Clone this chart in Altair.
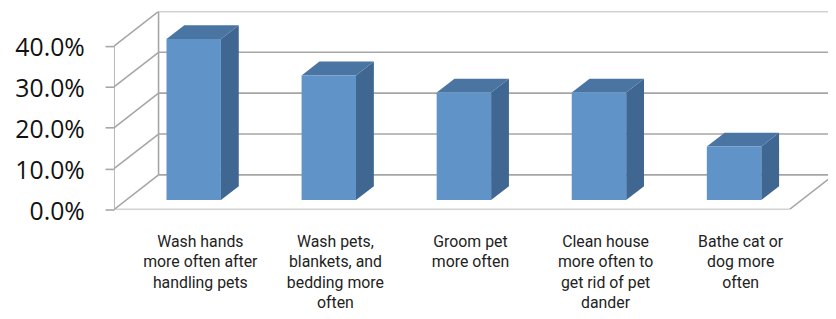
import altair as alt
import pandas as pd

# ---- data ----
categories = [
    "Wash hands\nmore often after\nhandling pets",
    "Wash pets,\nblankets, and\nbedding more\noften",
    "Groom pet\nmore often",
    "Clean house\nmore often to\nget rid of pet\ndander",
    "Bathe cat or\ndog more\noften",
]
values = [0.394, 0.305, 0.263, 0.263, 0.131]
tick_values = [0.0, 0.1, 0.2, 0.3, 0.4]

# ---- 3D projection settings (styling) ----
WALL_DX = 0.33      # depth offset of the back wall, in category units
WALL_DY = 0.0848    # depth offset of the back wall, in value units
BAR_W = 0.403
BAR_FRONT = 0.274   # fraction of depth where the bar's front face sits
BAR_DEPTH = 0.40    # fraction of depth taken by the bar
X_MAX = 5.286
Y_MAX = 0.4 + WALL_DY
N = len(categories)

FRONT = "#6094C9"
SIDE = "#3F6791"
TOP = "#4A74A1"
GRID = "#A6A6A6"

fx, fy = BAR_FRONT * WALL_DX, BAR_FRONT * WALL_DY
sdx, sdy = BAR_DEPTH * WALL_DX, BAR_DEPTH * WALL_DY

xs = alt.Scale(domain=[0, X_MAX], nice=False, zero=False)
ys = alt.Scale(domain=[0, Y_MAX], nice=False, zero=False)

front_rows, side_rows, top_rows = [], [], []
for i, (c, v) in enumerate(zip(categories, values)):
    xl = i + 0.5 + fx - BAR_W / 2
    xr = xl + BAR_W
    base, top = fy, fy + v
    front_rows.append(dict(cat=c, xl=xl, xr=xr, base=base, top=top, v=v))
    side_rows += [dict(cat=c, x=xr, y=top, y2=base),
                  dict(cat=c, x=xr + sdx, y=top + sdy, y2=base + sdy)]
    top_rows += [dict(cat=c, y=top, x=xl, x2=xr),
                 dict(cat=c, y=top + sdy, x=xl + sdx, x2=xr + sdx)]

grid_rows = []
for t in tick_values:
    grid_rows.append(dict(x=WALL_DX, x2=X_MAX, y=t + WALL_DY, y2=t + WALL_DY))
    grid_rows.append(dict(x=0, x2=WALL_DX, y=t, y2=t + WALL_DY))
grid_rows.append(dict(x=WALL_DX, x2=WALL_DX, y=WALL_DY, y2=tick_values[-1] + WALL_DY))
grid_rows.append(dict(x=0, x2=0, y=0, y2=tick_values[-1]))
grid_rows.append(dict(x=0, x2=N, y=0, y2=0))
grid_rows.append(dict(x=N, x2=N + WALL_DX, y=0, y2=WALL_DY))

label_rows = [dict(cat=c, x=i + 0.5, y=0) for i, c in enumerate(categories)]

grid = alt.Chart(pd.DataFrame(grid_rows)).mark_rule(
    color=GRID, strokeWidth=1.6, clip=True
).encode(
    x=alt.X("x:Q", scale=xs, axis=None),
    x2="x2:Q",
    y=alt.Y("y:Q", scale=ys, axis=alt.Axis(
        values=tick_values, format=".1%", domain=False, grid=False,
        tickSize=9, tickColor=GRID, tickWidth=1.6,
        labelFont="Open Sans", labelFontSize=25, labelColor="#111111",
        labelPadding=21, labelOffset=2, title=None)),
    y2="y2:Q",
)

side = alt.Chart(pd.DataFrame(side_rows)).mark_area(color=SIDE, orient="vertical").encode(
    x=alt.X("x:Q", scale=xs), y=alt.Y("y:Q", scale=ys), y2="y2:Q", detail="cat:N"
)
topf = alt.Chart(pd.DataFrame(top_rows)).mark_area(color=TOP, orient="horizontal").encode(
    y=alt.Y("y:Q", scale=ys), x=alt.X("x:Q", scale=xs), x2="x2:Q", detail="cat:N"
)
front = alt.Chart(pd.DataFrame(front_rows)).mark_rect(color=FRONT).encode(
    x=alt.X("xl:Q", scale=xs), x2="xr:Q", y=alt.Y("base:Q", scale=ys), y2="top:Q"
)
labels = alt.Chart(pd.DataFrame(label_rows)).mark_text(
    align="center", baseline="top", dx=19, dy=25, lineBreak="\n", lineHeight=20.5,
    font="Roboto", fontSize=16, color="#222222"
).encode(x=alt.X("x:Q", scale=xs), y=alt.Y("y:Q", scale=ys), text="cat:N")

chart = alt.layer(grid, side, topf, front, labels).properties(
    width=721, height=200,
    autosize=alt.AutoSizeParams(type="none"),
    padding={"left": 107, "top": 2, "right": 0, "bottom": 101},
).configure_view(strokeWidth=0)

chart.save("out.html", embed_options={"renderer": "svg", "actions": False})
